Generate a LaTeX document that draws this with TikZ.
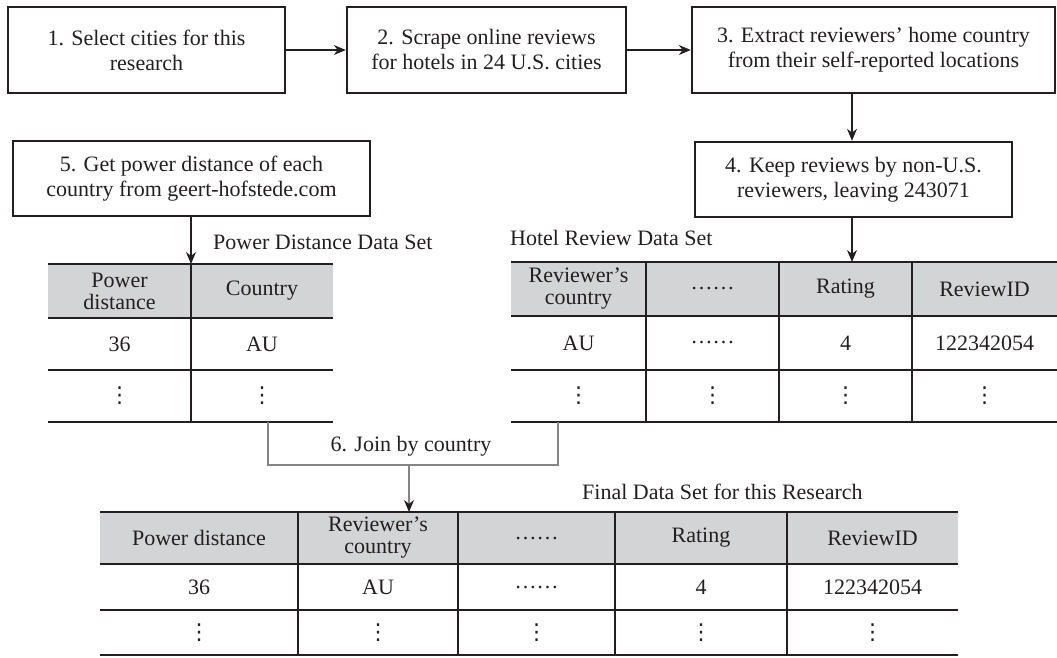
\documentclass[tikz,border=0pt]{standalone}
\usepackage{fontspec}
\setmainfont{Liberation Serif}
\newfontfamily\dotsfont{DejaVu Sans}
\usetikzlibrary{arrows.meta}
\definecolor{ink}{HTML}{231F20}
\definecolor{headgray}{HTML}{D3D4D5}
\definecolor{joingray}{HTML}{858585}
\newcommand\colvdots{{\dotsfont\fontsize{22}{22}\selectfont ⋮}}
\tikzset{
  stepbox/.style={draw=ink, line width=2.4pt, minimum height=86, align=center, inner sep=0pt, text=ink},
  flow/.style={draw=ink, line width=1.3pt, -{Stealth[length=12pt,width=10pt]}},
  joinline/.style={draw=joingray, line width=1.5pt},
  cell/.style={text=ink, align=center, inner sep=0pt, font=\fontsize{22}{22}\selectfont},
  rule/.style={draw=ink, line width=2pt},
}
\begin{document}
\begin{tikzpicture}[x=1pt,y=-1pt,font=\fontsize{22}{25}\selectfont]
\useasboundingbox (0,0) rectangle (1057,657);

\node[stepbox, minimum width=277] (s1) at (146.5,50) {1. Select cities for this\\research};
\node[stepbox, minimum width=279] (s2) at (486.5,50) {2. Scrape online reviews\\for hotels in 24 U.S. cities};
\node[stepbox, minimum width=363] (s3) at (873.5,50) {3. Extract reviewers’ home country\\from their self-reported locations};
\node[stepbox, minimum width=317, minimum height=75] (s4) at (853.5,179.5) {4. Keep reviews by non-U.S.\\reviewers, leaving 243071};
\node[stepbox, minimum width=357, minimum height=75] (s5) at (191.5,178.5) {5. Get power distance of each\\country from geert-hofstede.com};

\coordinate (pdtop) at (191,264);
\coordinate (hrtop) at (852,262);
\coordinate (pdjoin) at (268,422);
\coordinate (hrjoin) at (558,422);
\coordinate (fdtop) at (409,512);

\fill[headgray] (48,264) rectangle (333,318);
\fill[headgray] (511,262) rectangle (1057,316);
\fill[headgray] (100,512) rectangle (958,564);
\foreach \y in {264,318,370,422} \draw[rule] (48,\y) -- (333,\y);
\foreach \y in {262,316,370,422} \draw[rule] (511,\y) -- (1057,\y);
\foreach \y in {512,564,610,655} \draw[rule] (100,\y) -- (958,\y);
\draw[rule] (191,264) -- (191,422);
\foreach \x in {646,779,912} \draw[rule] (\x,262) -- (\x,422);
\foreach \x in {298,458,615,787} \draw[rule] (\x,512) -- (\x,655);

\foreach \x/\h/\a [count=\i] in {119.5/{Power\\distance}/36, 262/Country/AU} {
  \node[cell] (pdh\i) at (\x,291) {\h};
  \node[cell] (pda\i) at (\x,344) {\a};
  \node[cell] (pdv\i) at (\x,396) {\colvdots};
}
\foreach \x/\h/\a [count=\i] in {578.5/{Reviewer’s\\country}/AU, 712.5/\ldots\ldots/\ldots\ldots, 845.5/Rating/4, 984.5/ReviewID/122342054} {
  \node[cell] (hrh\i) at (\x,289) {\h};
  \node[cell] (hra\i) at (\x,343) {\a};
  \node[cell] (hrv\i) at (\x,396) {\colvdots};
}
\foreach \x/\h/\a [count=\i] in {199/Power distance/36, 378/{Reviewer’s\\country}/AU, 536.5/\ldots\ldots/\ldots\ldots, 701/Rating/4, 872.5/ReviewID/122342054} {
  \node[cell] (fdh\i) at (\x,538) {\h};
  \node[cell] (fda\i) at (\x,587) {\a};
  \node[cell] (fdv\i) at (\x,632.5) {\colvdots};
}

\node[cell, anchor=west] (pdlabel) at (213,242) {Power Distance Data Set};
\node[cell, anchor=west] (hrlabel) at (510,238) {Hotel Review Data Set};
\node[cell, anchor=west] (fdlabel) at (582,492) {Final Data Set for this Research};

\draw[flow] (s1) -- (s2);
\draw[flow] (s2) -- (s3);
\draw[flow] (s3.south -| hrtop) -- (s4.north -| hrtop);
\draw[flow] (s5.south -| pdtop) -- (pdtop);
\draw[flow] (s4.south -| hrtop) -- (hrtop);

\draw[joinline] (pdjoin) -- ++(0,43) -| (hrjoin);
\node[cell] (join) at (411,446) {6. Join by country};
\draw[joinline, -{Stealth[length=12pt,width=10pt,color=ink]}] (fdtop |- pdjoin) ++(0,43) -- (fdtop);
\end{tikzpicture}
\end{document}
